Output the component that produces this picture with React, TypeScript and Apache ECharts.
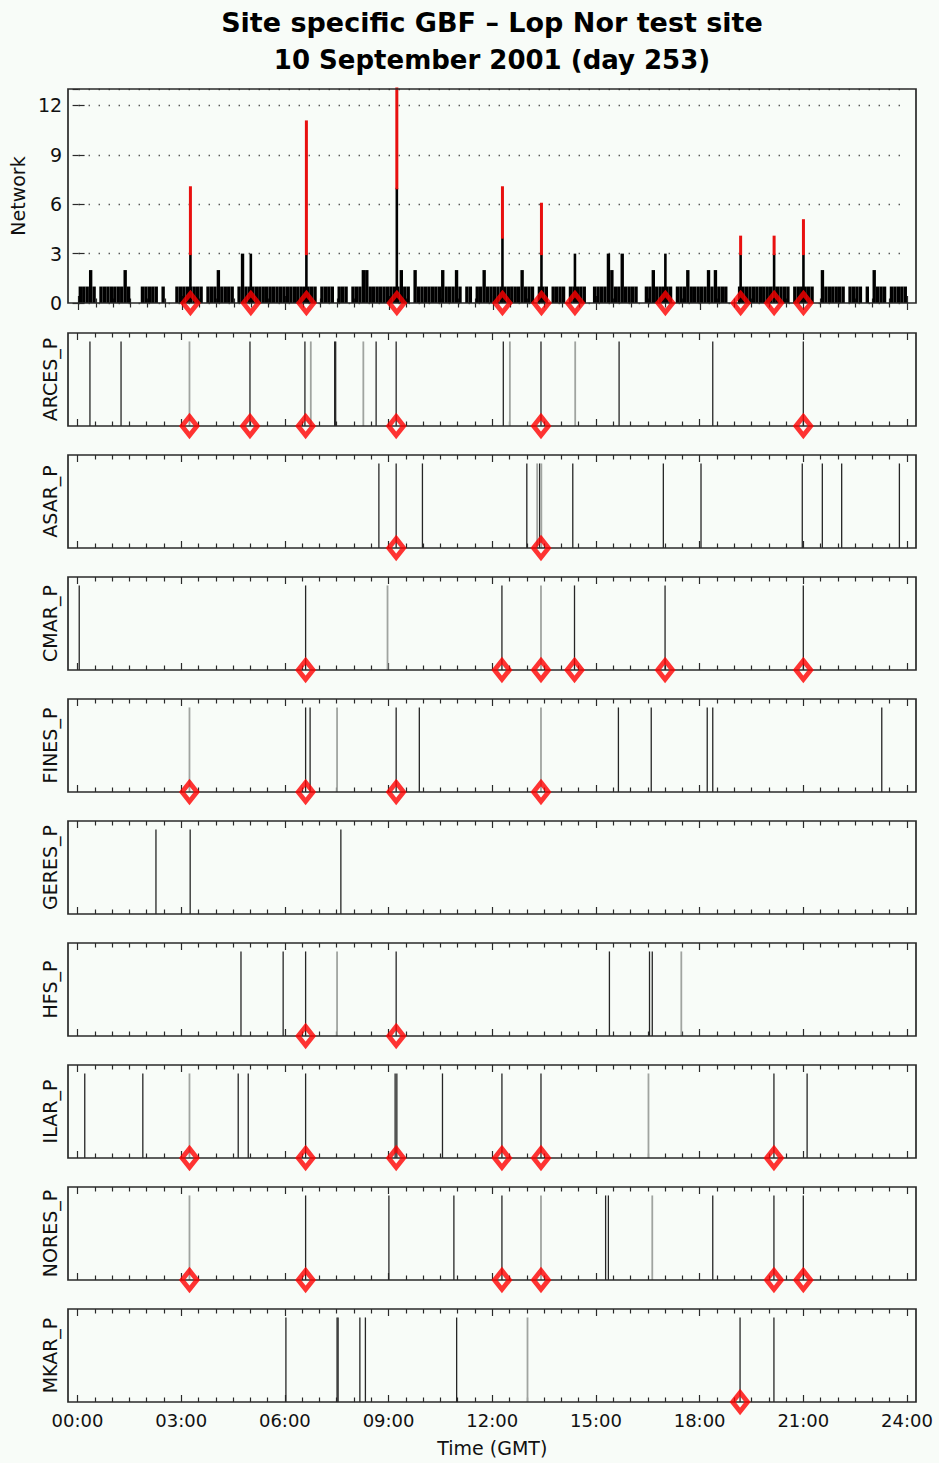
import React, { useEffect, useRef } from "react";
import * as echarts from "echarts";

// ---------------- DATA ----------------
const X_TICK_LABELS = ["00:00", "03:00", "06:00", "09:00", "12:00", "15:00", "18:00", "21:00", "24:00"];
const NETWORK_Y_TICKS = [0, 3, 6, 9, 12];
const BIN_HOURS = 0.1;

// network detections per 6-minute bin (240 bins, hour by hour)
const networkCounts = [
  1, 1, 1, 2, 1, 0, 1, 1, 1, 1,
  1, 1, 1, 2, 1, 0, 0, 0, 1, 1,
  1, 1, 1, 0, 1, 0, 0, 0, 1, 1,
  1, 1, 1, 1, 1, 1, 0, 1, 1, 1,
  2, 1, 1, 1, 1, 0, 1, 3, 1, 1,
  1, 1, 1, 1, 1, 1, 1, 1, 1, 1,
  1, 1, 1, 1, 1, 1, 1, 1, 1, 0,
  1, 1, 1, 1, 0, 1, 1, 1, 0, 1,
  1, 1, 2, 2, 1, 1, 1, 1, 1, 1,
  1, 1, 1, 2, 1, 1, 0, 2, 1, 1,
  1, 1, 1, 1, 1, 2, 1, 1, 1, 2,
  1, 0, 1, 1, 0, 1, 1, 2, 1, 1,
  1, 1, 1, 1, 1, 1, 1, 1, 2, 1,
  1, 1, 0, 1, 1, 1, 0, 1, 1, 1,
  1, 0, 1, 1, 1, 1, 1, 0, 0, 1,
  1, 1, 1, 3, 2, 1, 1, 3, 1, 1,
  1, 1, 0, 0, 1, 1, 2, 1, 1, 1,
  1, 1, 0, 1, 1, 1, 2, 1, 1, 1,
  1, 1, 2, 1, 2, 1, 1, 1, 0, 0,
  0, 1, 1, 1, 1, 1, 1, 1, 1, 1,
  1, 1, 1, 1, 1, 1, 0, 1, 1, 1,
  1, 1, 1, 0, 0, 2, 1, 1, 1, 1,
  1, 1, 0, 1, 1, 1, 1, 0, 1, 0,
  2, 1, 1, 1, 0, 1, 1, 1, 1, 1,
];

// network events (hours): detections (black) and total (red top)
const eventTimes = [3.24, 4.99, 6.6, 9.22, 12.28, 13.41, 14.38, 17.0, 19.18, 20.15, 21.0];
const eventBlack = [3, 3, 3, 7, 4, 3, 3, 3, 3, 3, 3];
const eventTotal = [7, 3, 11, 13, 7, 6, 3, 3, 4, 4, 5];

const stationNames = ["ARCES_P", "ASAR_P", "CMAR_P", "FINES_P", "GERES_P", "HFS_P", "ILAR_P", "NORES_P", "MKAR_P"];

const arcesTimes = [0.36, 1.26, 3.24, 4.99, 6.58, 6.75, 7.44, 7.47, 8.27, 8.64, 9.22, 12.32, 12.51, 13.41, 14.4, 15.67, 18.38, 21.0];
const arcesTones = [0, 0, 1, 0, 0, 1, 0, 0, 1, 0, 0, 0, 1, 0, 1, 0, 0, 0];
const arcesEvents = [3.24, 4.99, 6.6, 9.22, 13.41, 21.0];

const asarTimes = [8.72, 9.22, 9.98, 13.0, 13.3, 13.37, 13.42, 14.33, 16.95, 18.04, 20.97, 21.55, 22.11, 23.78];
const asarTones = [0, 0, 0, 0, 1, 0, 1, 0, 0, 0, 0, 0, 0, 0];
const asarEvents = [9.22, 13.41];

const cmarTimes = [0.05, 6.6, 8.97, 12.28, 13.41, 14.38, 17.0, 21.0];
const cmarTones = [0, 0, 1, 0, 1, 0, 0, 0];
const cmarEvents = [6.6, 12.28, 13.41, 14.38, 17.0, 21.0];

const finesTimes = [3.24, 6.6, 6.73, 7.51, 9.22, 9.89, 13.41, 15.65, 16.6, 18.22, 18.38, 23.27];
const finesTones = [1, 0, 0, 1, 0, 0, 1, 0, 0, 0, 0, 0];
const finesEvents = [3.24, 6.6, 9.22, 13.41];

const geresTimes = [2.27, 3.26, 7.62];
const geresTones = [0, 0, 0];
const geresEvents: number[] = [];

const hfsTimes = [4.73, 5.95, 6.6, 7.51, 9.22, 15.39, 16.55, 16.63, 17.47];
const hfsTones = [0, 0, 0, 1, 0, 0, 0, 0, 1];
const hfsEvents = [6.6, 9.22];

const ilarTimes = [0.21, 1.89, 3.24, 4.65, 4.94, 6.6, 9.19, 9.24, 10.56, 12.28, 13.41, 16.52, 20.15, 21.11];
const ilarTones = [0, 0, 1, 0, 0, 0, 0, 0, 0, 0, 0, 1, 0, 0];
const ilarEvents = [3.24, 6.6, 9.22, 12.28, 13.41, 20.15];

const noresTimes = [3.24, 6.6, 9.01, 10.89, 12.28, 13.41, 15.28, 15.36, 16.63, 18.38, 20.15, 21.0];
const noresTones = [1, 0, 0, 0, 0, 1, 0, 0, 1, 0, 0, 0];
const noresEvents = [3.24, 6.6, 12.28, 13.41, 20.15, 21.0];

const mkarTimes = [6.03, 7.51, 7.54, 8.17, 8.33, 10.97, 13.02, 19.17, 20.15];
const mkarTones = [0, 0, 0, 0, 0, 0, 1, 0, 0];
const mkarEvents = [19.17];

const stationTimes = [arcesTimes, asarTimes, cmarTimes, finesTimes, geresTimes, hfsTimes, ilarTimes, noresTimes, mkarTimes];
const stationTones = [arcesTones, asarTones, cmarTones, finesTones, geresTones, hfsTones, ilarTones, noresTones, mkarTones];
const stationEvents = [arcesEvents, asarEvents, cmarEvents, finesEvents, geresEvents, hfsEvents, ilarEvents, noresEvents, mkarEvents];

// ---------------- LAYOUT / STYLE ----------------
const BG = "#f8fcf8";
const AXIS = "#2a2a2a";
const FONT = '"DejaVu Sans", "Liberation Sans", sans-serif';
const FRAME_LEFT = 68;
const FRAME_WIDTH = 848;
const AXIS_LEFT = 77.5;
const AXIS_WIDTH = 829.5;
const NET_TOP = 89;
const NET_H = 214;
const ST_TOP0 = 333;
const ST_STEP = 122;
const ST_H = 93;
const DIAMOND_SIZE = [15, 19];
const DIAMOND_STYLE = { color: "rgba(0,0,0,0)", borderColor: "#ff0000", borderWidth: 4.8 };

function buildOption() {
  const nPanels = 1 + stationNames.length;
  const tops: number[] = [NET_TOP];
  const heights: number[] = [NET_H];
  stationNames.forEach((_, k) => {
    tops.push(ST_TOP0 + ST_STEP * k);
    heights.push(ST_H);
  });

  const grid = tops.map((t, i) => ({ left: AXIS_LEFT, width: AXIS_WIDTH, top: t, height: heights[i], containLabel: false }));

  const xAxis: any[] = [];
  for (let i = 0; i < nPanels; i++) {
    (["bottom", "top"] as const).forEach((pos) => {
      const isBottomLabel = pos === "bottom" && i === nPanels - 1;
      xAxis.push({
        type: "value",
        gridIndex: i,
        position: pos,
        min: 0,
        max: 24,
        interval: 3,
        axisLine: { show: false },
        axisTick: { show: true, inside: true, length: 7, lineStyle: { color: AXIS, width: 1.2 } },
        minorTick: { show: true, splitNumber: 6, length: 4.5, lineStyle: { color: AXIS, width: 1.2 } },
        splitLine: { show: false },
        minorSplitLine: { show: false },
        axisLabel: {
          show: isBottomLabel,
          margin: 9,
          fontFamily: FONT,
          fontSize: 18,
          color: "#111",
          formatter: (v: number) => X_TICK_LABELS[Math.round(v / 3)] ?? "",
        },
        name: isBottomLabel ? "Time (GMT)" : "",
        nameLocation: "middle",
        nameGap: 36,
        nameTextStyle: { fontFamily: FONT, fontSize: 19, color: "#111" },
      });
    });
  }

  const yAxis: any[] = [
    {
      type: "value",
      gridIndex: 0,
      position: "left",
      offset: AXIS_LEFT - FRAME_LEFT,
      min: 0,
      max: 13,
      interval: 3,
      axisLine: { show: false },
      axisTick: { show: true, inside: true, length: 6, lineStyle: { color: AXIS, width: 1.2 } },
      axisLabel: {
        margin: 7,
        fontFamily: FONT,
        fontSize: 19,
        color: "#111",
        showMaxLabel: false,
        formatter: (v: number) => (NETWORK_Y_TICKS.includes(v) ? String(v) : ""),
      },
      splitLine: { show: true, lineStyle: { color: "#555", width: 1.4, type: [1.4, 8.6] } },
      name: "Network",
      nameLocation: "middle",
      nameRotate: 90,
      nameGap: 40,
      nameTextStyle: { fontFamily: FONT, fontSize: 19, color: "#111" },
    },
    {
      type: "value",
      gridIndex: 0,
      position: "right",
      offset: FRAME_LEFT + FRAME_WIDTH - (AXIS_LEFT + AXIS_WIDTH),
      min: 0,
      max: 13,
      interval: 3,
      axisLine: { show: false },
      axisTick: { show: true, inside: true, length: 6, lineStyle: { color: AXIS, width: 1.2 } },
      axisLabel: { show: false },
      splitLine: { show: false },
    },
  ];
  stationNames.forEach((name, k) => {
    yAxis.push({
      type: "value",
      gridIndex: k + 1,
      position: "left",
      offset: AXIS_LEFT - FRAME_LEFT,
      min: 0,
      max: 1.1,
      axisLine: { show: false },
      axisTick: { show: false },
      axisLabel: { show: false },
      splitLine: { show: false },
      name,
      nameLocation: "middle",
      nameRotate: 90,
      nameGap: 9,
      nameTextStyle: { fontFamily: FONT, fontSize: 19, color: "#111" },
    });
  });

  const series: any[] = [];

  // network background detections
  const binData: number[][] = [];
  networkCounts.forEach((c, i) => {
    if (c > 0) binData.push([i * BIN_HOURS + BIN_HOURS / 2, c]);
  });
  series.push({
    type: "custom",
    xAxisIndex: 0,
    yAxisIndex: 0,
    data: binData,
    z: 2,
    silent: true,
    renderItem: (params: any, api: any) => {
      const x = api.value(0);
      const v = api.value(1);
      const p1 = api.coord([x - BIN_HOURS * 0.49, v]);
      const p2 = api.coord([x + BIN_HOURS * 0.49, 0]);
      return {
        type: "rect",
        shape: { x: p1[0], y: p1[1], width: p2[0] - p1[0], height: p2[1] - p1[1] },
        style: { fill: "#000" },
      };
    },
  });

  // network events: black detections + red associated total
  series.push({
    type: "custom",
    xAxisIndex: 0,
    yAxisIndex: 0,
    data: eventTimes.map((t, i) => [t, eventBlack[i], eventTotal[i]]),
    z: 3,
    silent: true,
    renderItem: (params: any, api: any) => {
      const t = api.value(0);
      const b = api.value(1);
      const tot = api.value(2);
      const p0 = api.coord([t, 0]);
      const pb = api.coord([t, b]);
      const pt = api.coord([t, tot]);
      return {
        type: "group",
        children: [
          { type: "line", shape: { x1: p0[0], y1: p0[1], x2: pb[0], y2: pb[1] }, style: { stroke: "#000", lineWidth: 2.6 } },
          { type: "line", shape: { x1: pb[0], y1: pb[1], x2: pt[0], y2: pt[1] }, style: { stroke: "#e8100f", lineWidth: 3, lineCap: "square" } },
        ],
      };
    },
  });

  series.push({
    type: "scatter",
    xAxisIndex: 0,
    yAxisIndex: 0,
    data: eventTimes.map((t) => [t, 0]),
    symbol: "diamond",
    symbolSize: DIAMOND_SIZE,
    clip: false,
    z: 10,
    silent: true,
    itemStyle: DIAMOND_STYLE,
  });

  stationNames.forEach((_, k) => {
    const gi = k + 1;
    const tones = stationTones[k];
    series.push({
      type: "custom",
      xAxisIndex: gi * 2,
      yAxisIndex: k + 2,
      data: stationTimes[k].map((t, j) => [t, tones[j]]),
      z: 2,
      silent: true,
      renderItem: (params: any, api: any) => {
        const t = api.value(0);
        const tone = api.value(1);
        const a = api.coord([t, 0]);
        const b = api.coord([t, 1]);
        return {
          type: "line",
          shape: { x1: a[0], y1: a[1], x2: b[0], y2: b[1] },
          style: { stroke: tone ? "#a0a4a0" : "#262626", lineWidth: tone ? 1.8 : 1.3 },
        };
      },
    });
    if (stationEvents[k].length) {
      series.push({
        type: "scatter",
        xAxisIndex: gi * 2,
        yAxisIndex: k + 2,
        data: stationEvents[k].map((t) => [t, 0]),
        symbol: "diamond",
        symbolSize: DIAMOND_SIZE,
        clip: false,
        z: 10,
        silent: true,
        itemStyle: DIAMOND_STYLE,
      });
    }
  });

  const graphic: any[] = [
    {
      type: "text",
      x: 492,
      y: 22,
      z: 20,
      style: {
        text: "Site specific GBF \u2013 Lop Nor test site",
        font: `bold 27px ${FONT}`,
        fill: "#000",
        textAlign: "center",
        textVerticalAlign: "middle",
        align: "center",
        verticalAlign: "middle",
      },
    },
    {
      type: "text",
      x: 492,
      y: 60,
      z: 20,
      style: {
        text: "10 September 2001 (day 253)",
        font: `bold 26px ${FONT}`,
        fill: "#000",
        textAlign: "center",
        textVerticalAlign: "middle",
        align: "center",
        verticalAlign: "middle",
      },
    },
  ];
  tops.forEach((t, i) => {
    graphic.push({
      type: "rect",
      z: 5,
      silent: true,
      shape: { x: FRAME_LEFT, y: t, width: FRAME_WIDTH, height: heights[i] },
      style: { fill: "none", stroke: AXIS, lineWidth: 1.7 },
    });
  });

  return {
    animation: false,
    backgroundColor: BG,
    grid,
    xAxis,
    yAxis,
    series,
    graphic,
  };
}

export default function App() {
  const ref = useRef<HTMLDivElement>(null);
  useEffect(() => {
    document.body.style.margin = "0";
    document.body.style.background = BG;
    const chart = echarts.init(ref.current as HTMLDivElement, null, { renderer: "svg" });
    chart.setOption(buildOption() as any);
    return () => chart.dispose();
  }, []);
  return <div ref={ref} style={{ width: 939, height: 1463, background: BG }} />;
}
